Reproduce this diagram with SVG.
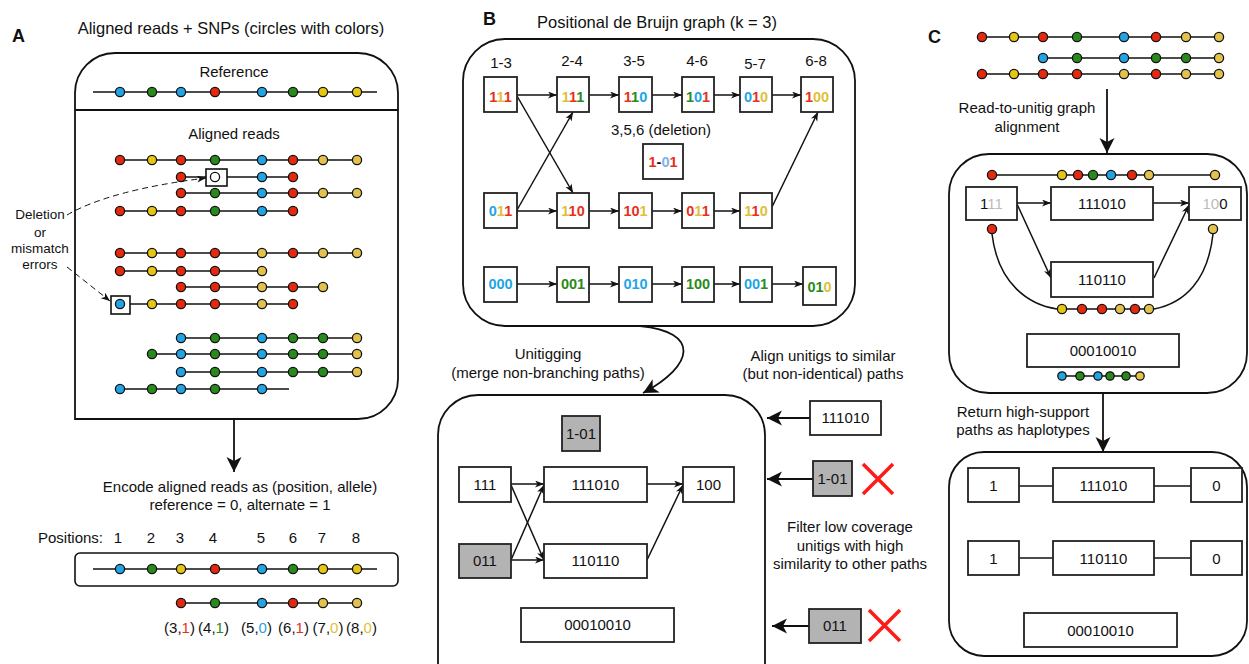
<svg xmlns="http://www.w3.org/2000/svg" width="1249" height="664" viewBox="0 0 1249 664">
<defs>
<style>
text{font-family:"Liberation Sans",Arial,sans-serif;fill:#111}
.t{font-size:16.5px}
.m{font-size:15px}
.s{font-size:13.5px}
.p{font-size:18px;font-weight:bold}
.c{text-anchor:middle}
.d{font-size:14.5px;font-weight:bold;text-anchor:middle}
.ln{stroke:#111;stroke-width:1.5;fill:none}
.bx{fill:#fff;stroke:#222;stroke-width:1.8}
.gb{fill:#b3b3b3;stroke:#222;stroke-width:1.8}
.fr{fill:none;stroke:#111;stroke-width:1.8}
.ar{stroke:#111;stroke-width:1.5;fill:none;marker-end:url(#sa)}
.big{stroke:#111;stroke-width:1.8;fill:none;marker-end:url(#ba)}
.ds{stroke:#111;stroke-width:1;fill:none;stroke-dasharray:6,4;marker-end:url(#sa)}
.x{stroke:#ff1a1a;stroke-width:3.5}
circle{stroke:#111;stroke-width:1.3}
.r{fill:#e5290f}.g{fill:#288a1c}.b{fill:#22a4e3}.y{fill:#e6c513}.ym{fill:#e2c24c}.w{fill:#fff}
.R{fill:#e8301c}.G{fill:#2a8a1a}.B{fill:#1ea5e8}.Y{fill:#e0bf3a}.LB{fill:#7fb2ec}.K{fill:#111}.L{fill:#bbb}
</style>
<marker id="sa" markerUnits="userSpaceOnUse" markerWidth="10" markerHeight="8" refX="9" refY="3.5" orient="auto"><path d="M0,0 L9,3.5 L0,7 L2.5,3.5 Z" fill="#111"/></marker>
<marker id="ba" markerUnits="userSpaceOnUse" markerWidth="16" markerHeight="16" refX="15" refY="7.5" orient="auto"><path d="M0,0 L15,7.5 L0,15 L4,7.5 Z" fill="#111"/></marker>
</defs>

<!-- Panel A -->
<g id="panelA">
<text class="p" x="12" y="42">A</text>
<text class="t c" x="231" y="34">Aligned reads + SNPs (circles with colors)</text>
<path class="fr" d="M75,419 L75,93 A40,40 0 0 1 115,53 L358,53 A40,40 0 0 1 398,93 L398,379 A40,40 0 0 1 358,419 Z"/>
<line class="fr" x1="75" y1="110" x2="398" y2="110"/>
<text class="m c" x="234" y="77">Reference</text>
<g id="refA">
<line class="ln" x1="93" y1="92" x2="377" y2="92"/>
<circle class="b" cx="120" cy="92" r="4.6"/><circle class="g" cx="152" cy="92" r="4.6"/><circle class="b" cx="181" cy="92" r="4.6"/><circle class="r" cx="215" cy="92" r="4.6"/><circle class="b" cx="262" cy="92" r="4.6"/><circle class="g" cx="293" cy="92" r="4.6"/><circle class="y" cx="323" cy="92" r="4.6"/><circle class="y" cx="357" cy="92" r="4.6"/>
</g>
<text class="m c" x="234" y="139">Aligned reads</text>
<g id="readsA">
<line class="ln" x1="120" y1="160" x2="357" y2="160"/>
<circle class="r" cx="120" cy="160" r="4.6"/><circle class="y" cx="152" cy="160" r="4.6"/><circle class="r" cx="181" cy="160" r="4.6"/><circle class="g" cx="215" cy="160" r="4.6"/><circle class="b" cx="262" cy="160" r="4.6"/><circle class="r" cx="293" cy="160" r="4.6"/><circle class="ym" cx="323" cy="160" r="4.6"/><circle class="ym" cx="357" cy="160" r="4.6"/>

<line class="ln" x1="181" y1="177" x2="206" y2="177"/>
<line class="ln" x1="227" y1="177" x2="293" y2="177"/>
<rect x="206" y="169" width="21" height="17" fill="#fff" stroke="#111" stroke-width="1.6"/>
<circle class="r" cx="181" cy="177" r="4.6"/><circle class="w" cx="215" cy="177" r="4.6"/><circle class="b" cx="262" cy="177" r="4.6"/><circle class="r" cx="293" cy="177" r="4.6"/>

<line class="ln" x1="181" y1="193" x2="357" y2="193"/>
<circle class="r" cx="181" cy="193" r="4.6"/><circle class="g" cx="215" cy="193" r="4.6"/><circle class="b" cx="262" cy="193" r="4.6"/><circle class="r" cx="293" cy="193" r="4.6"/><circle class="ym" cx="323" cy="193" r="4.6"/><circle class="ym" cx="357" cy="193" r="4.6"/>

<line class="ln" x1="120" y1="211" x2="293" y2="211"/>
<circle class="r" cx="120" cy="211" r="4.6"/><circle class="y" cx="152" cy="211" r="4.6"/><circle class="r" cx="181" cy="211" r="4.6"/><circle class="g" cx="215" cy="211" r="4.6"/><circle class="b" cx="262" cy="211" r="4.6"/><circle class="r" cx="293" cy="211" r="4.6"/>

<line class="ln" x1="120" y1="253" x2="357" y2="253"/>
<circle class="r" cx="120" cy="253" r="4.6"/><circle class="y" cx="152" cy="253" r="4.6"/><circle class="r" cx="181" cy="253" r="4.6"/><circle class="r" cx="215" cy="253" r="4.6"/><circle class="ym" cx="262" cy="253" r="4.6"/><circle class="r" cx="293" cy="253" r="4.6"/><circle class="ym" cx="323" cy="253" r="4.6"/><circle class="ym" cx="357" cy="253" r="4.6"/>

<line class="ln" x1="120" y1="271" x2="262" y2="271"/>
<circle class="r" cx="120" cy="271" r="4.6"/><circle class="y" cx="152" cy="271" r="4.6"/><circle class="r" cx="181" cy="271" r="4.6"/><circle class="r" cx="215" cy="271" r="4.6"/><circle class="ym" cx="262" cy="271" r="4.6"/>

<line class="ln" x1="181" y1="287" x2="323" y2="287"/>
<circle class="r" cx="181" cy="287" r="4.6"/><circle class="r" cx="215" cy="287" r="4.6"/><circle class="ym" cx="262" cy="287" r="4.6"/><circle class="r" cx="293" cy="287" r="4.6"/><circle class="ym" cx="323" cy="287" r="4.6"/>

<line class="ln" x1="130" y1="304" x2="293" y2="304"/>
<rect x="111" y="296" width="19" height="18" fill="none" stroke="#111" stroke-width="1.6"/>
<circle class="b" cx="120" cy="304" r="4.6"/><circle class="y" cx="152" cy="304" r="4.6"/><circle class="r" cx="181" cy="304" r="4.6"/><circle class="r" cx="215" cy="304" r="4.6"/><circle class="ym" cx="262" cy="304" r="4.6"/><circle class="r" cx="293" cy="304" r="4.6"/>

<line class="ln" x1="181" y1="338" x2="357" y2="338"/>
<circle class="b" cx="181" cy="338" r="4.6"/><circle class="g" cx="215" cy="338" r="4.6"/><circle class="b" cx="262" cy="338" r="4.6"/><circle class="g" cx="293" cy="338" r="4.6"/><circle class="g" cx="323" cy="338" r="4.6"/><circle class="ym" cx="357" cy="338" r="4.6"/>

<line class="ln" x1="152" y1="354" x2="357" y2="354"/>
<circle class="g" cx="152" cy="354" r="4.6"/><circle class="b" cx="181" cy="354" r="4.6"/><circle class="g" cx="215" cy="354" r="4.6"/><circle class="b" cx="262" cy="354" r="4.6"/><circle class="g" cx="293" cy="354" r="4.6"/><circle class="g" cx="323" cy="354" r="4.6"/><circle class="ym" cx="357" cy="354" r="4.6"/>

<line class="ln" x1="181" y1="372" x2="357" y2="372"/>
<circle class="b" cx="181" cy="372" r="4.6"/><circle class="g" cx="215" cy="372" r="4.6"/><circle class="b" cx="262" cy="372" r="4.6"/><circle class="g" cx="293" cy="372" r="4.6"/><circle class="g" cx="323" cy="372" r="4.6"/><circle class="ym" cx="357" cy="372" r="4.6"/>

<line class="ln" x1="120" y1="389" x2="289" y2="389"/>
<circle class="b" cx="120" cy="389" r="4.6"/><circle class="g" cx="152" cy="389" r="4.6"/><circle class="b" cx="181" cy="389" r="4.6"/><circle class="g" cx="215" cy="389" r="4.6"/><circle class="b" cx="262" cy="389" r="4.6"/>
</g>
<g id="errLabel">
<text class="s c" x="40" y="219">Deletion</text>
<text class="s c" x="40" y="237">or</text>
<text class="s c" x="40" y="253">mismatch</text>
<text class="s c" x="40" y="269">errors</text>
</g>
<path class="ds" d="M67,215 Q110,190 206,178"/>
<path class="ds" d="M67,267 L110,301"/>
<line class="big" x1="234" y1="419" x2="234" y2="472"/>
<text class="m c" x="240" y="492">Encode aligned reads as (position, allele)</text>
<text class="m c" x="240" y="510">reference = 0, alternate = 1</text>
<g id="positions">
<text class="m" x="38" y="543">Positions:</text>
<text class="m c" x="118" y="543">1</text><text class="m c" x="151" y="543">2</text><text class="m c" x="180" y="543">3</text><text class="m c" x="213" y="543">4</text><text class="m c" x="261" y="543">5</text><text class="m c" x="293" y="543">6</text><text class="m c" x="322" y="543">7</text><text class="m c" x="356" y="543">8</text>
</g>
<g id="encRef">
<rect x="75" y="553" width="323" height="33" rx="5" fill="none" stroke="#111" stroke-width="1.6"/>
<line class="ln" x1="93" y1="569" x2="377" y2="569"/>
<circle class="b" cx="120" cy="569" r="4.6"/><circle class="g" cx="152" cy="569" r="4.6"/><circle class="y" cx="181" cy="569" r="4.6"/><circle class="r" cx="215" cy="569" r="4.6"/><circle class="b" cx="262" cy="569" r="4.6"/><circle class="g" cx="293" cy="569" r="4.6"/><circle class="y" cx="323" cy="569" r="4.6"/><circle class="y" cx="357" cy="569" r="4.6"/>
</g>
<g id="encRead">
<line class="ln" x1="181" y1="603" x2="357" y2="603"/>
<circle class="r" cx="181" cy="603" r="4.6"/><circle class="g" cx="215" cy="603" r="4.6"/><circle class="b" cx="262" cy="603" r="4.6"/><circle class="r" cx="293" cy="603" r="4.6"/><circle class="ym" cx="323" cy="603" r="4.6"/><circle class="ym" cx="357" cy="603" r="4.6"/>
<text class="m c" x="179.5" y="633">(3,<tspan class="R">1</tspan>)</text>
<text class="m c" x="213.5" y="633">(4,<tspan class="G">1</tspan>)</text>
<text class="m c" x="256.5" y="633">(5,<tspan class="B">0</tspan>)</text>
<text class="m c" x="293.5" y="633">(6,<tspan class="R">1</tspan>)</text>
<text class="m c" x="328" y="633">(7,<tspan class="Y">0</tspan>)</text>
<text class="m c" x="361.5" y="633">(8,<tspan class="Y">0</tspan>)</text>
</g>
</g>

<!-- Panel B -->
<g id="panelB">
<text class="p" x="483" y="25">B</text>
<text class="t c" x="657" y="28">Positional de Bruijn graph (k = 3)</text>
<rect class="fr" x="463" y="39" width="392" height="287" rx="42"/>
<g id="kmerLabels">
<text class="m c" x="501" y="68">1-3</text><text class="m c" x="572" y="66">2-4</text><text class="m c" x="634" y="66">3-5</text><text class="m c" x="697" y="66">4-6</text><text class="m c" x="755" y="69">5-7</text><text class="m c" x="816" y="66">6-8</text>
</g>
<g id="pdbgEdges">
<line class="ar" x1="517" y1="95" x2="557" y2="95"/><line class="ar" x1="589" y1="95" x2="619" y2="95"/><line class="ar" x1="652" y1="95" x2="682" y2="95"/><line class="ar" x1="714" y1="95" x2="740" y2="95"/><line class="ar" x1="772" y1="95" x2="801" y2="95"/>
<line class="ar" x1="517" y1="96" x2="573" y2="193"/>
<line class="ar" x1="517" y1="210" x2="573" y2="112"/>
<line class="ar" x1="772" y1="207" x2="818" y2="112"/>
<line class="ar" x1="517" y1="211" x2="557" y2="211"/><line class="ar" x1="589" y1="211" x2="619" y2="211"/><line class="ar" x1="652" y1="211" x2="682" y2="211"/><line class="ar" x1="714" y1="211" x2="740" y2="211"/>
<line class="ar" x1="517" y1="284" x2="557" y2="284"/><line class="ar" x1="589" y1="284" x2="619" y2="284"/><line class="ar" x1="652" y1="284" x2="682" y2="284"/><line class="ar" x1="714" y1="284" x2="740" y2="284"/><line class="ar" x1="772" y1="284" x2="803" y2="284"/>
</g>
<g id="n13"><rect class="bx" x="484" y="77" width="33" height="35"/><text class="d" x="500.5" y="102"><tspan class="R">1</tspan><tspan class="Y">1</tspan><tspan class="R">1</tspan></text></g>
<g id="n24"><rect class="bx" x="557" y="77" width="32" height="35"/><text class="d" x="573" y="102"><tspan class="Y">1</tspan><tspan class="R">1</tspan><tspan class="G">1</tspan></text></g>
<g id="n35"><rect class="bx" x="619" y="77" width="33" height="35"/><text class="d" x="635.5" y="102"><tspan class="R">1</tspan><tspan class="G">1</tspan><tspan class="B">0</tspan></text></g>
<g id="n46"><rect class="bx" x="682" y="77" width="32" height="35"/><text class="d" x="698" y="102"><tspan class="G">1</tspan><tspan class="B">0</tspan><tspan class="R">1</tspan></text></g>
<g id="n57"><rect class="bx" x="740" y="77" width="32" height="35"/><text class="d" x="756" y="102"><tspan class="B">0</tspan><tspan class="R">1</tspan><tspan class="Y">0</tspan></text></g>
<g id="n68"><rect class="bx" x="801" y="77" width="32" height="35"/><text class="d" x="817" y="102"><tspan class="R">1</tspan><tspan class="Y">0</tspan><tspan class="Y">0</tspan></text></g>
<text class="m c" x="661" y="135">3,5,6 (deletion)</text>
<g id="ndel"><rect class="bx" x="643" y="144" width="40" height="35"/><text class="d" x="663" y="167"><tspan class="R">1</tspan><tspan class="K">-</tspan><tspan class="LB">0</tspan><tspan class="R">1</tspan></text></g>
<g id="m1"><rect class="bx" x="484" y="193" width="33" height="35"/><text class="d" x="500.5" y="216"><tspan class="B">0</tspan><tspan class="Y">1</tspan><tspan class="R">1</tspan></text></g>
<g id="m2"><rect class="bx" x="557" y="193" width="32" height="35"/><text class="d" x="573" y="216"><tspan class="Y">1</tspan><tspan class="R">1</tspan><tspan class="R">0</tspan></text></g>
<g id="m3"><rect class="bx" x="619" y="193" width="33" height="35"/><text class="d" x="635.5" y="216"><tspan class="R">1</tspan><tspan class="R">0</tspan><tspan class="Y">1</tspan></text></g>
<g id="m4"><rect class="bx" x="682" y="193" width="32" height="35"/><text class="d" x="698" y="216"><tspan class="R">0</tspan><tspan class="Y">1</tspan><tspan class="R">1</tspan></text></g>
<g id="m5"><rect class="bx" x="740" y="193" width="32" height="35"/><text class="d" x="756" y="216"><tspan class="Y">1</tspan><tspan class="R">1</tspan><tspan class="Y">0</tspan></text></g>
<g id="z1"><rect class="bx" x="484" y="267" width="33" height="35"/><text class="d" x="500.5" y="289"><tspan class="B">000</tspan></text></g>
<g id="z2"><rect class="bx" x="557" y="267" width="32" height="35"/><text class="d" x="573" y="289"><tspan class="G">001</tspan></text></g>
<g id="z3"><rect class="bx" x="619" y="267" width="33" height="35"/><text class="d" x="635.5" y="289"><tspan class="B">010</tspan></text></g>
<g id="z4"><rect class="bx" x="682" y="267" width="32" height="35"/><text class="d" x="698" y="289"><tspan class="G">100</tspan></text></g>
<g id="z5"><rect class="bx" x="740" y="267" width="32" height="35"/><text class="d" x="756" y="289"><tspan class="B">00</tspan><tspan class="G">1</tspan></text></g>
<g id="z6"><rect class="bx" x="803" y="267" width="33" height="38"/><text class="d" x="819.5" y="292"><tspan class="G">01</tspan><tspan class="Y">0</tspan></text></g>

<path class="big" d="M640,326 C700,332 695,365 643,393"/>
<text class="m c" x="548" y="359">Unitigging</text>
<text class="m c" x="548" y="378">(merge non-branching paths)</text>
<text class="m c" x="823" y="361">Align unitigs to similar</text>
<text class="m c" x="823" y="379">(but non-identical) paths</text>

<rect class="fr" x="438" y="395" width="327" height="320" rx="40"/>
<g id="unitigEdges">
<line class="ar" x1="511" y1="484" x2="544" y2="484"/>
<line class="ar" x1="511" y1="485" x2="544" y2="560"/>
<line class="ar" x1="511" y1="560" x2="544" y2="485"/>
<line class="ar" x1="511" y1="560" x2="544" y2="560"/>
<line class="ar" x1="647" y1="484" x2="683" y2="484"/>
<line class="ar" x1="647" y1="560" x2="683" y2="485"/>
</g>
<g id="u101"><rect class="gb" x="562" y="416" width="38" height="35"/><text class="m c" x="581" y="439">1-01</text></g>
<g id="u111"><rect class="bx" x="459" y="467" width="52" height="35"/><text class="m c" x="485" y="490">111</text></g>
<g id="u111010"><rect class="bx" x="544" y="467" width="103" height="35"/><text class="m c" x="595.5" y="490">111010</text></g>
<g id="u100"><rect class="bx" x="683" y="467" width="51" height="35"/><text class="m c" x="708.5" y="490">100</text></g>
<g id="u011"><rect class="gb" x="459" y="544" width="52" height="34"/><text class="m c" x="485" y="566">011</text></g>
<g id="u110110"><rect class="bx" x="544" y="544" width="103" height="34"/><text class="m c" x="595.5" y="566">110110</text></g>
<g id="u000"><rect class="bx" x="521" y="608" width="153" height="34"/><text class="m c" x="597.5" y="630">00010010</text></g>

<g id="alignSide">
<line class="big" x1="810" y1="418" x2="767" y2="418"/>
<rect class="bx" x="810" y="401" width="71" height="34"/><text class="m c" x="845.5" y="423">111010</text>
<line class="big" x1="813" y1="479" x2="767" y2="479"/>
<rect class="gb" x="813" y="461" width="39" height="35"/><text class="m c" x="832.5" y="484">1-01</text>
<path class="x" d="M863,464 L893,494 M893,464 L863,494"/>
<text class="m c" x="850" y="532">Filter low coverage</text>
<text class="m c" x="850" y="551">unitigs with high</text>
<text class="m c" x="850" y="569">similarity to other paths</text>
<line class="big" x1="809" y1="626" x2="772" y2="626"/>
<rect class="gb" x="809" y="609" width="52" height="34"/><text class="m c" x="835" y="631">011</text>
<path class="x" d="M869,610 L900,641 M900,610 L869,641"/>
</g>
</g>

<!-- Panel C -->
<g id="panelC">
<text class="p" x="928" y="43">C</text>
<g id="readsC">
<line class="ln" x1="982" y1="37" x2="1219" y2="37"/>
<circle class="r" cx="982" cy="37" r="4.6"/><circle class="y" cx="1014" cy="37" r="4.6"/><circle class="r" cx="1043" cy="37" r="4.6"/><circle class="g" cx="1077" cy="37" r="4.6"/><circle class="b" cx="1124" cy="37" r="4.6"/><circle class="r" cx="1156" cy="37" r="4.6"/><circle class="ym" cx="1186" cy="37" r="4.6"/><circle class="ym" cx="1219" cy="37" r="4.6"/>
<line class="ln" x1="1043" y1="58" x2="1219" y2="58"/>
<circle class="b" cx="1043" cy="58" r="4.6"/><circle class="g" cx="1077" cy="58" r="4.6"/><circle class="b" cx="1124" cy="58" r="4.6"/><circle class="g" cx="1156" cy="58" r="4.6"/><circle class="g" cx="1186" cy="58" r="4.6"/><circle class="ym" cx="1219" cy="58" r="4.6"/>
<line class="ln" x1="982" y1="74" x2="1219" y2="74"/>
<circle class="r" cx="982" cy="74" r="4.6"/><circle class="y" cx="1014" cy="74" r="4.6"/><circle class="r" cx="1043" cy="74" r="4.6"/><circle class="r" cx="1077" cy="74" r="4.6"/><circle class="ym" cx="1124" cy="74" r="4.6"/><circle class="r" cx="1156" cy="74" r="4.6"/><circle class="ym" cx="1186" cy="74" r="4.6"/><circle class="ym" cx="1219" cy="74" r="4.6"/>
</g>
<line class="big" x1="1107" y1="89" x2="1107" y2="153"/>
<text class="m c" x="1027" y="113">Read-to-unitig graph</text>
<text class="m c" x="1027" y="132">alignment</text>
<rect class="fr" x="949" y="154" width="298" height="239" rx="40"/>
<g id="alignRead1">
<line class="ln" x1="992" y1="175" x2="1215" y2="175"/>
<circle class="r" cx="992" cy="175" r="4.6"/><circle class="y" cx="1062" cy="175" r="4.6"/><circle class="r" cx="1078" cy="175" r="4.6"/><circle class="g" cx="1093" cy="175" r="4.6"/><circle class="b" cx="1111" cy="175" r="4.6"/><circle class="r" cx="1132" cy="175" r="4.6"/><circle class="ym" cx="1149" cy="175" r="4.6"/><circle class="ym" cx="1215" cy="175" r="4.6"/>
</g>
<g id="cEdges">
<line class="ar" x1="1017" y1="203" x2="1051" y2="203"/>
<line class="ar" x1="1153" y1="203" x2="1189" y2="203"/>
<line class="ar" x1="1017" y1="204" x2="1051" y2="278"/>
<line class="ar" x1="1154" y1="278" x2="1189" y2="205"/>
</g>
<g id="c111"><rect class="bx" x="966" y="187" width="51" height="33"/><text class="m c" x="991.5" y="209"><tspan class="K">1</tspan><tspan class="L">11</tspan></text></g>
<g id="c111010"><rect class="bx" x="1051" y="187" width="102" height="33"/><text class="m c" x="1102" y="209">111010</text></g>
<g id="c100"><rect class="bx" x="1189" y="187" width="52" height="33"/><text class="m c" x="1215" y="209"><tspan class="L">10</tspan><tspan class="K">0</tspan></text></g>
<g id="c110110"><rect class="bx" x="1051" y="262" width="102" height="35"/><text class="m c" x="1102" y="285">110110</text></g>
<g id="alignRead2">
<path class="ln" d="M992,234 C998,285 1030,305 1057,309"/>
<path class="ln" d="M1154,309 C1185,303 1208,280 1213,234"/>
<circle class="r" cx="992" cy="229" r="4.6"/><circle class="ym" cx="1213" cy="229" r="4.6"/>
<line class="ln" x1="1062" y1="309" x2="1149" y2="309"/>
<circle class="y" cx="1062" cy="309" r="4.6"/><circle class="r" cx="1082" cy="309" r="4.6"/><circle class="r" cx="1102" cy="309" r="4.6"/><circle class="ym" cx="1120" cy="309" r="4.6"/><circle class="r" cx="1135" cy="309" r="4.6"/><circle class="ym" cx="1149" cy="309" r="4.6"/>
</g>
<g id="c000"><rect class="bx" x="1027" y="334" width="152" height="33"/><text class="m c" x="1103" y="356">00010010</text></g>
<g id="alignRead3">
<line class="ln" x1="1062" y1="376" x2="1140" y2="376"/>
<circle class="b" cx="1062" cy="376" r="4.2"/><circle class="g" cx="1080" cy="376" r="4.2"/><circle class="b" cx="1098" cy="376" r="4.2"/><circle class="g" cx="1110" cy="376" r="4.2"/><circle class="g" cx="1126" cy="376" r="4.2"/><circle class="ym" cx="1140" cy="376" r="4.2"/>
</g>
<line class="big" x1="1103" y1="393" x2="1103" y2="452"/>
<text class="m c" x="1023" y="417">Return high-support</text>
<text class="m c" x="1023" y="435">paths as haplotypes</text>
<rect class="fr" x="949" y="452" width="298" height="204" rx="35"/>
<g id="hap1">
<line class="ln" x1="1019" y1="486" x2="1053" y2="486"/><line class="ln" x1="1154" y1="486" x2="1191" y2="486"/>
<rect class="bx" x="968" y="468" width="51" height="34"/><text class="m c" x="993.5" y="491">1</text>
<rect class="bx" x="1053" y="468" width="101" height="34"/><text class="m c" x="1103.5" y="491">111010</text>
<rect class="bx" x="1191" y="468" width="51" height="34"/><text class="m c" x="1216.5" y="491">0</text>
</g>
<g id="hap2">
<line class="ln" x1="1019" y1="558" x2="1053" y2="558"/><line class="ln" x1="1154" y1="558" x2="1191" y2="558"/>
<rect class="bx" x="968" y="541" width="51" height="34"/><text class="m c" x="993.5" y="564">1</text>
<rect class="bx" x="1053" y="541" width="101" height="34"/><text class="m c" x="1103.5" y="564">110110</text>
<rect class="bx" x="1191" y="541" width="51" height="34"/><text class="m c" x="1216.5" y="564">0</text>
</g>
<g id="hap3"><rect class="bx" x="1024" y="613" width="153" height="34"/><text class="m c" x="1100.5" y="636">00010010</text></g>
</g>
</svg>
